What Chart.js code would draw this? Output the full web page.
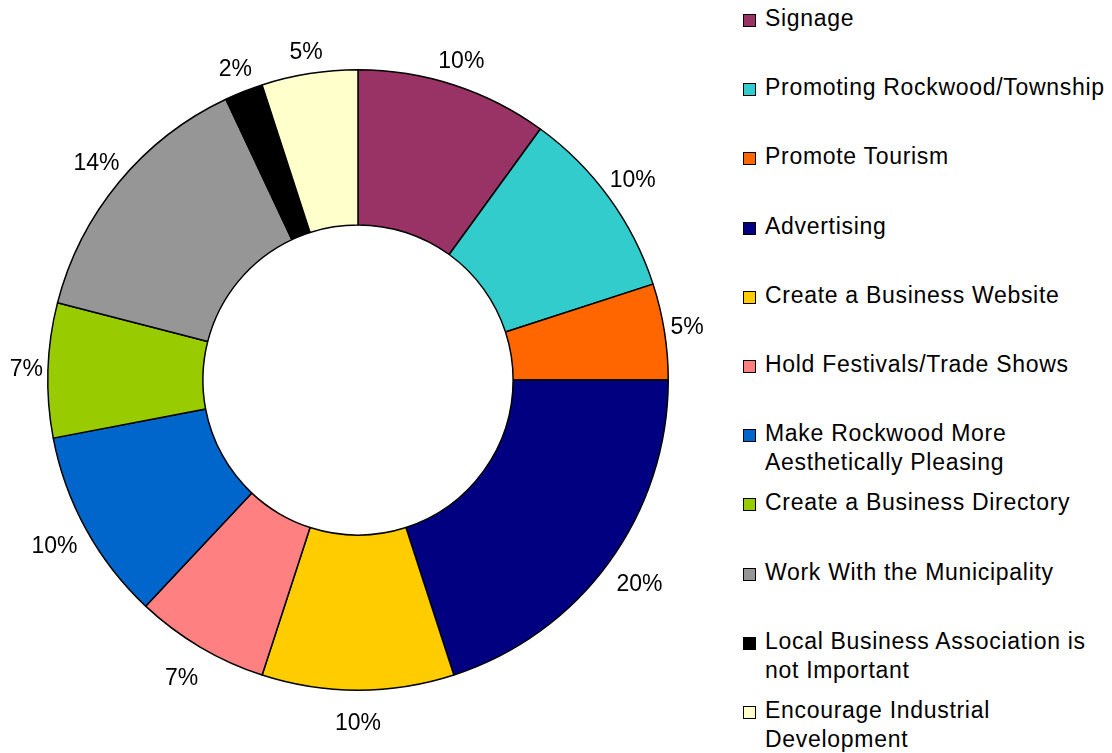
<!DOCTYPE html>
<html>
<head>
<meta charset="utf-8">
<script src="https://cdn.jsdelivr.net/npm/chart.js@4.4.1/dist/chart.umd.min.js"></script>
<style>
  html, body { margin: 0; padding: 0; background: #fff; }
  body { width: 1112px; height: 753px; position: relative; overflow: hidden; font-family: "Liberation Sans", Arial, sans-serif; }
  #wrap { position: absolute; left: 0; top: 0; width: 716px; height: 753px; }
  #legenda { position: absolute; left: 0; top: 0; }
  .item { position: absolute; left: 743px; width: 372px; font-size: 23px; letter-spacing: 0.7px; line-height: 29px; color: #000; white-space: nowrap; }
  .item .caixa { position: absolute; left: 0; top: 10px; width: 11px; height: 11px; border: 1px solid #000; }
  .item .texto { margin-left: 22px; }
</style>
</head>
<body>
<div id="wrap"><canvas id="grafico"></canvas></div>
<div id="legenda"></div>
<script>
const categorias = [
    'Signage',
    'Promoting Rockwood/Township',
    'Promote Tourism',
    'Advertising',
    'Create a Business Website',
    'Hold Festivals/Trade Shows',
    'Make Rockwood More Aesthetically Pleasing',
    'Create a Business Directory',
    'Work With the Municipality',
    'Local Business Association is not Important',
    'Encourage Industrial Development'
];
// legend text breaks where the label wraps in two lines
const legendaLinhas = [
    ['Signage'],
    ['Promoting Rockwood/Township'],
    ['Promote Tourism'],
    ['Advertising'],
    ['Create a Business Website'],
    ['Hold Festivals/Trade Shows'],
    ['Make Rockwood More', 'Aesthetically Pleasing'],
    ['Create a Business Directory'],
    ['Work With the Municipality'],
    ['Local Business Association is', 'not Important'],
    ['Encourage Industrial', 'Development']
];
const percentuais = [10, 10, 5, 20, 10, 7, 10, 7, 14, 2, 5];
const cores = ['#993366', '#33CCCC', '#FF6600', '#000080', '#FFCC00', '#FF8080',
               '#0066CC', '#99CC00', '#969696', '#000000', '#FFFFCC'];

// percent labels outside each slice
const rotulosExternos = {
    id: 'rotulosExternos',
    afterDatasetsDraw(chart) {
        const ctx = chart.ctx;
        const meta = chart.getDatasetMeta(0);
        ctx.save();
        ctx.font = '23px "Liberation Sans", Arial, sans-serif';
        ctx.fillStyle = '#000';
        ctx.textAlign = 'center';
        ctx.textBaseline = 'middle';
        meta.data.forEach(function (arco, i) {
            const p = arco.getProps(['x', 'y', 'startAngle', 'endAngle', 'outerRadius']);
            const meio = (p.startAngle + p.endAngle) / 2;
            const s = Math.abs(Math.cos(meio)), c = Math.abs(Math.sin(meio));
            const texto = percentuais[i] + '%';
            const larg = ctx.measureText(texto).width;
            let dist = p.outerRadius + 8 + s * larg * 0.4 + c * 11;
            if (Math.sin(meio) > 0) dist += 14 * c;
            ctx.fillText(texto, p.x + Math.cos(meio) * dist, p.y + Math.sin(meio) * dist);
        });
        ctx.restore();
    }
};

new Chart(document.getElementById('grafico'), {
    type: 'doughnut',
    data: {
        labels: categorias,
        datasets: [{
            data: percentuais,
            backgroundColor: cores,
            borderColor: '#000',
            borderWidth: 1.5
        }]
    },
    options: {
        responsive: true,
        maintainAspectRatio: false,
        animation: false,
        cutout: '50%',
        layout: { padding: { left: 47, right: 47, top: 69, bottom: 62 } },
        plugins: { legend: { display: false }, tooltip: { enabled: false } }
    },
    plugins: [rotulosExternos]
});

// legend on the right
const $leg = document.getElementById('legenda');
legendaLinhas.forEach(function (linhas, i) {
    const div = document.createElement('div');
    div.className = 'item';
    div.style.top = (4 + i * 69.2) + 'px';
    div.innerHTML = '<span class="caixa" style="background:' + cores[i] + '"></span>' +
        '<div class="texto">' + linhas.join('<br>') + '</div>';
    $leg.appendChild(div);
});
</script>
</body>
</html>
